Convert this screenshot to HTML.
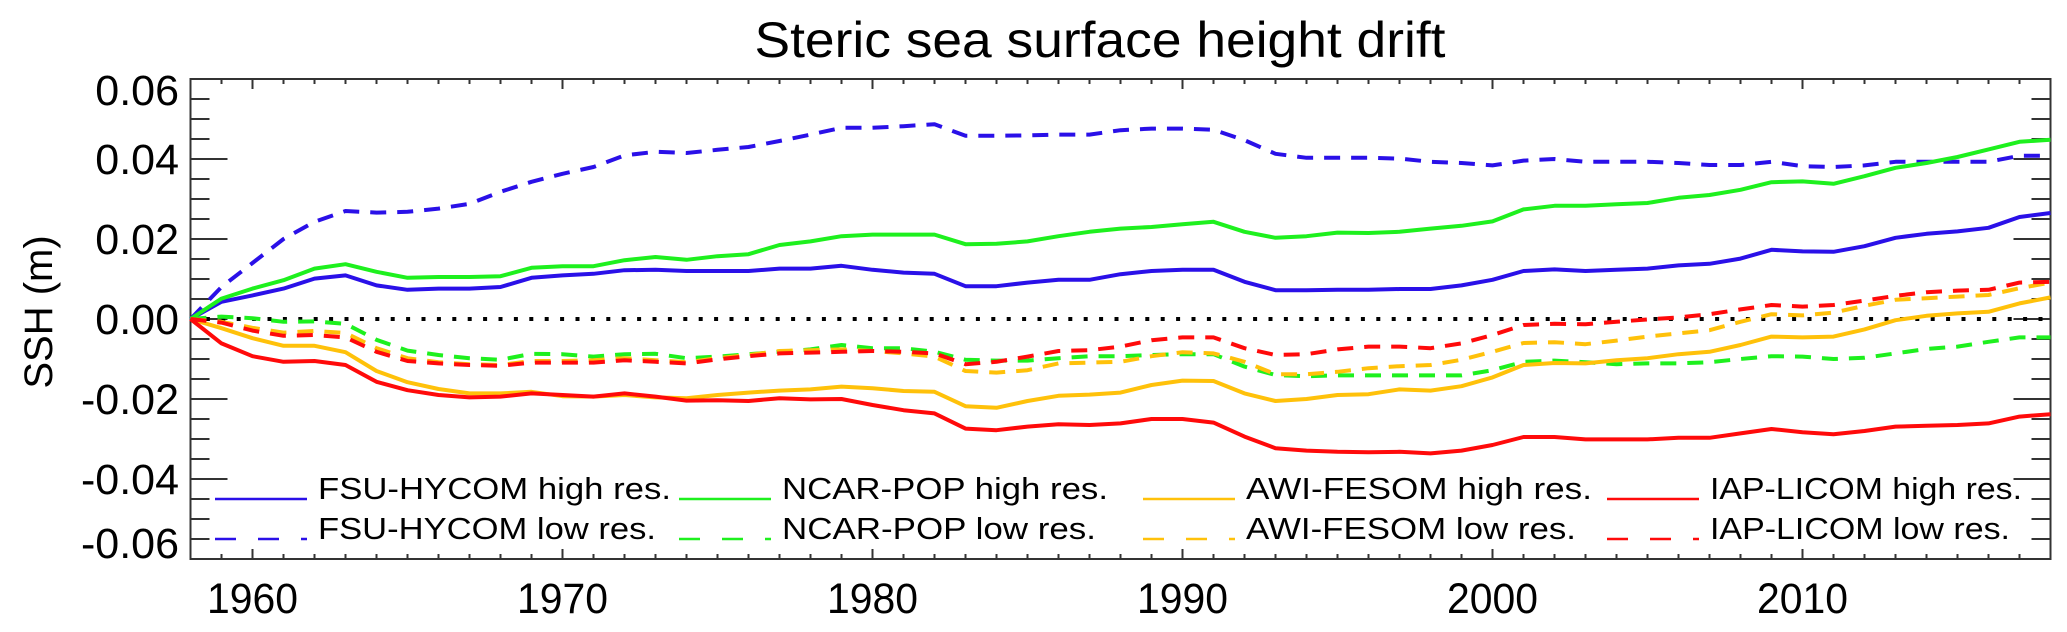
<!DOCTYPE html>
<html><head><meta charset="utf-8"><style>
html,body{margin:0;padding:0;background:#fff;}
svg{display:block;font-family:"Liberation Sans",sans-serif;}
</style></head><body>
<svg id="chart" width="2067" height="632" viewBox="0 0 2067 632" xmlns="http://www.w3.org/2000/svg">
<text x="1100" y="57" font-size="50" text-anchor="middle" textLength="691" lengthAdjust="spacingAndGlyphs">Steric sea surface height drift</text>
<text transform="translate(52,312) rotate(-90)" font-size="40" text-anchor="middle">SSH (m)</text>
<g id="plot"></g>
</svg>
<script>
const years = [];
for (let y = 1958; y <= 2018; y++) years.push(y);
const yTicks = [0.06, 0.04, 0.02, 0.00, -0.02, -0.04, -0.06];
const yTickLabels = ["0.06", "0.04", "0.02", "0.00", "-0.02", "-0.04", "-0.06"];
const xTicks = [1960, 1970, 1980, 1990, 2000, 2010];
const xTickLabels = ["1960", "1970", "1980", "1990", "2000", "2010"];
const fsuHigh = [0,.0043,.0059,.0076,.0101,.0109,.0084,.0073,.0076,.0076,.008,.0103,.0109,.0113,.0122,.0123,.012,.012,.012,.0126,.0126,.0133,.0123,.0116,.0113,.0082,.0082,.0091,.0098,.0098,.0112,.012,.0123,.0123,.0093,.0072,.0072,.0073,.0073,.0075,.0075,.0084,.0098,.012,.0124,.012,.0123,.0126,.0134,.0138,.0151,.0173,.0169,.0168,.0182,.0203,.0213,.0219,.0228,.0255,.0265];
const fsuLow = [0,.008,.014,.020,.0243,.027,.0266,.0268,.0276,.0288,.0318,.0343,.0363,.038,.0409,.0418,.0415,.0423,.043,.0445,.0461,.0478,.0478,.0482,.0487,.0458,.0458,.0459,.0461,.0461,.0472,.0476,.0476,.0473,.0447,.0413,.0403,.0403,.0403,.0401,.0393,.039,.0384,.0396,.04,.0393,.0393,.0393,.039,.0385,.0385,.0393,.0382,.038,.0384,.0393,.0393,.0393,.0393,.0408,.0408];
const ncarHigh = [0,.0051,.0076,.0097,.0126,.0137,.0118,.0103,.0105,.0105,.0107,.0128,.0132,.0132,.0147,.0155,.0148,.0157,.0162,.0185,.0194,.0207,.0211,.0211,.0211,.0187,.0188,.0194,.0207,.0218,.0226,.023,.0237,.0243,.0218,.0203,.0207,.0216,.0215,.0218,.0226,.0233,.0244,.0274,.0283,.0283,.0287,.029,.0303,.031,.0323,.0342,.0344,.0338,.0357,.0378,.039,.0405,.0424,.0443,.0448];
const ncarLow = [0,.0006,.0002,-.0007,-.0006,-.0012,-.0052,-.0079,-.009,-.0098,-.0102,-.0087,-.0088,-.0094,-.0088,-.0087,-.0098,-.0094,-.0088,-.0082,-.0076,-.0065,-.0073,-.0073,-.0082,-.0102,-.0104,-.0104,-.0098,-.0093,-.0093,-.009,-.0088,-.0088,-.0119,-.014,-.0143,-.0141,-.0141,-.0141,-.0141,-.0141,-.0128,-.0107,-.0104,-.0108,-.0113,-.0111,-.0111,-.0108,-.01,-.0093,-.0094,-.01,-.0097,-.0086,-.0075,-.0069,-.0057,-.0046,-.0046];
const awiHigh = [0,-.0023,-.0048,-.0067,-.0067,-.0083,-.013,-.0158,-.0175,-.0186,-.0186,-.0182,-.0193,-.0194,-.019,-.0196,-.0198,-.019,-.0184,-.0179,-.0176,-.0169,-.0173,-.018,-.0182,-.0218,-.0222,-.0205,-.0192,-.0189,-.0184,-.0165,-.0154,-.0155,-.0186,-.0205,-.02,-.019,-.0188,-.0176,-.0179,-.0168,-.0146,-.0115,-.011,-.0111,-.0103,-.0098,-.0088,-.0082,-.0065,-.0044,-.0046,-.0044,-.0026,-.0003,.0008,.0014,.0018,.0039,.0054];
const awiLow = [0,-.0007,-.0022,-.0034,-.003,-.0035,-.0073,-.0098,-.0108,-.0113,-.0115,-.0105,-.0105,-.0103,-.0098,-.0103,-.0108,-.0098,-.009,-.008,-.0078,-.0076,-.008,-.0086,-.0094,-.013,-.0134,-.0128,-.0111,-.0109,-.0107,-.0093,-.0083,-.0086,-.0107,-.0138,-.0138,-.0132,-.0123,-.0118,-.0115,-.0102,-.0082,-.006,-.0058,-.0063,-.0054,-.0044,-.0036,-.0028,-.0007,.0012,.0009,.0016,.0033,.0048,.0052,.0056,.006,.0077,.0091];
const iapHigh = [0,-.0061,-.0093,-.0107,-.0105,-.0115,-.0157,-.0178,-.019,-.0196,-.0194,-.0186,-.019,-.0194,-.0186,-.0194,-.0204,-.0203,-.0205,-.0198,-.0201,-.02,-.0215,-.0228,-.0236,-.0274,-.0278,-.0269,-.0263,-.0265,-.0261,-.025,-.025,-.0259,-.0294,-.0323,-.0329,-.0332,-.0333,-.0332,-.0336,-.0329,-.0315,-.0295,-.0295,-.0301,-.0301,-.0301,-.0297,-.0297,-.0286,-.0275,-.0283,-.0288,-.028,-.0269,-.0267,-.0265,-.0261,-.0244,-.0238];
const iapLow = [0,-.0009,-.0029,-.0042,-.004,-.0046,-.0082,-.0105,-.0111,-.0115,-.0117,-.0109,-.0109,-.0109,-.0103,-.0107,-.0111,-.0101,-.0093,-.0086,-.0084,-.0082,-.008,-.0082,-.0086,-.0113,-.0107,-.0094,-.008,-.0078,-.0069,-.0053,-.0046,-.0046,-.0073,-.009,-.0088,-.0076,-.0069,-.0069,-.0073,-.0061,-.004,-.0015,-.0012,-.0013,-.0007,-.0001,.0004,.0012,.0024,.0035,.0031,.0035,.0046,.0058,.0067,.0071,.0073,.0091,.0093];
const seriesLabels = ["FSU-HYCOM high res.","FSU-HYCOM low res.","NCAR-POP high res.","NCAR-POP low res.","AWI-FESOM high res.","AWI-FESOM low res.","IAP-LICOM high res.","IAP-LICOM low res."];

const L = 190.5, R = 2050.5, T = 79, B = 559;
function xs(yr){ return L + (yr - 1958) * (R - L) / 60; }
function ys(v){ return T + (0.06 - v) * (B - T) / 0.12; }
const NS = "http://www.w3.org/2000/svg";
const plot = document.getElementById("plot");
function mk(tag, attrs, parent){
  const e = document.createElementNS(NS, tag);
  for (const k in attrs) e.setAttribute(k, attrs[k]);
  (parent || plot).appendChild(e);
  return e;
}
const AX = "#333";
const frame = mk("rect", {x:L, y:T, width:R-L, height:B-T, fill:"none", stroke:AX, "stroke-width":2});


for (let i = 0; i <= 24; i++) {
  const v = -0.06 + i * 0.005;
  const major = (i % 4 === 0);
  const len = major ? 37 : 19;
  const y = ys(v);
  const t1 = mk("line", {x1:L, x2:L+len, y1:y, y2:y, stroke:AX, "stroke-width":2});
  
  
  const t2 = mk("line", {x1:R, x2:R-len, y1:y, y2:y, stroke:AX, "stroke-width":2});
  
  
}
yTicks.forEach((v, i) => {
  let y = ys(v) + 15;
  if (i === 0) y = ys(v) + 26;
  if (i === yTicks.length - 1) y = ys(v) - 1;
  const t = mk("text", {x:179, y:y, "font-size":43, "text-anchor":"end"});
  t.textContent = yTickLabels[i];
  
  
});
for (let yr = 1958; yr <= 2018; yr++) {
  const major = (yr % 10 === 0);
  const len = major ? 10 : 5;
  const x = xs(yr);
  const a = mk("line", {x1:x, x2:x, y1:B, y2:B-len, stroke:AX, "stroke-width":2});
  
  
  const b = mk("line", {x1:x, x2:x, y1:T, y2:T+len, stroke:AX, "stroke-width":2});
  
  
}
xTicks.forEach((yr, i) => {
  const t = mk("text", {x:xs(yr), y:613, "font-size":43, "text-anchor":"middle", textLength:91, lengthAdjust:"spacingAndGlyphs"});
  t.textContent = xTickLabels[i];
  
  
});
const z = mk("line", {x1:L, x2:R, y1:ys(0), y2:ys(0), stroke:"#000", "stroke-width":4, "stroke-dasharray":"4 11.4"});



const series = [
  {d:fsuHigh, c:"#2a10e8", dash:null, n:"fsu-hycom-high-line"},
  {d:fsuLow, c:"#2a10e8", dash:"16 11", n:"fsu-hycom-low-line"},
  {d:ncarHigh, c:"#1ef01e", dash:null, n:"ncar-pop-high-line"},
  {d:ncarLow, c:"#1ef01e", dash:"16 11", n:"ncar-pop-low-line"},
  {d:awiHigh, c:"#ffc10a", dash:null, n:"awi-fesom-high-line"},
  {d:awiLow, c:"#ffc10a", dash:"16 11", n:"awi-fesom-low-line"},
  {d:iapHigh, c:"#ff0a0a", dash:null, n:"iap-licom-high-line"},
  {d:iapLow, c:"#ff0a0a", dash:"16 11", n:"iap-licom-low-line"}
];
series.forEach(s => {
  const pts = s.d.map((v, i) => xs(years[i]).toFixed(1) + "," + ys(v).toFixed(1)).join(" ");
  const attrs = {points:pts, fill:"none", stroke:s.c, "stroke-width":4, "stroke-linejoin":"round"};
  if (s.dash) attrs["stroke-dasharray"] = s.dash;
  const p = mk("polyline", attrs);
  
  
});
const legX = [215, 679, 1143, 1607];
const legW = [[353, 338], [326, 314], [346, 330], [312, 300]];
series.forEach((s, i) => {
  const col = Math.floor(i / 2), row = i % 2;
  const ly = row === 0 ? 499 : 539;
  const g = mk("g", {});
  
  
  const attrs = {x1:legX[col], x2:legX[col]+92, y1:ly, y2:ly, stroke:s.c, "stroke-width":2.5};
  if (s.dash) attrs["stroke-dasharray"] = "21 22";
  const ln = mk("line", attrs, g);
  
  
  const t = mk("text", {x:legX[col]+103, y:ly, "font-size":31, textLength:legW[col][row], lengthAdjust:"spacingAndGlyphs"}, g);
  t.textContent = seriesLabels[i];
  
  
});
</script>
</body></html>
